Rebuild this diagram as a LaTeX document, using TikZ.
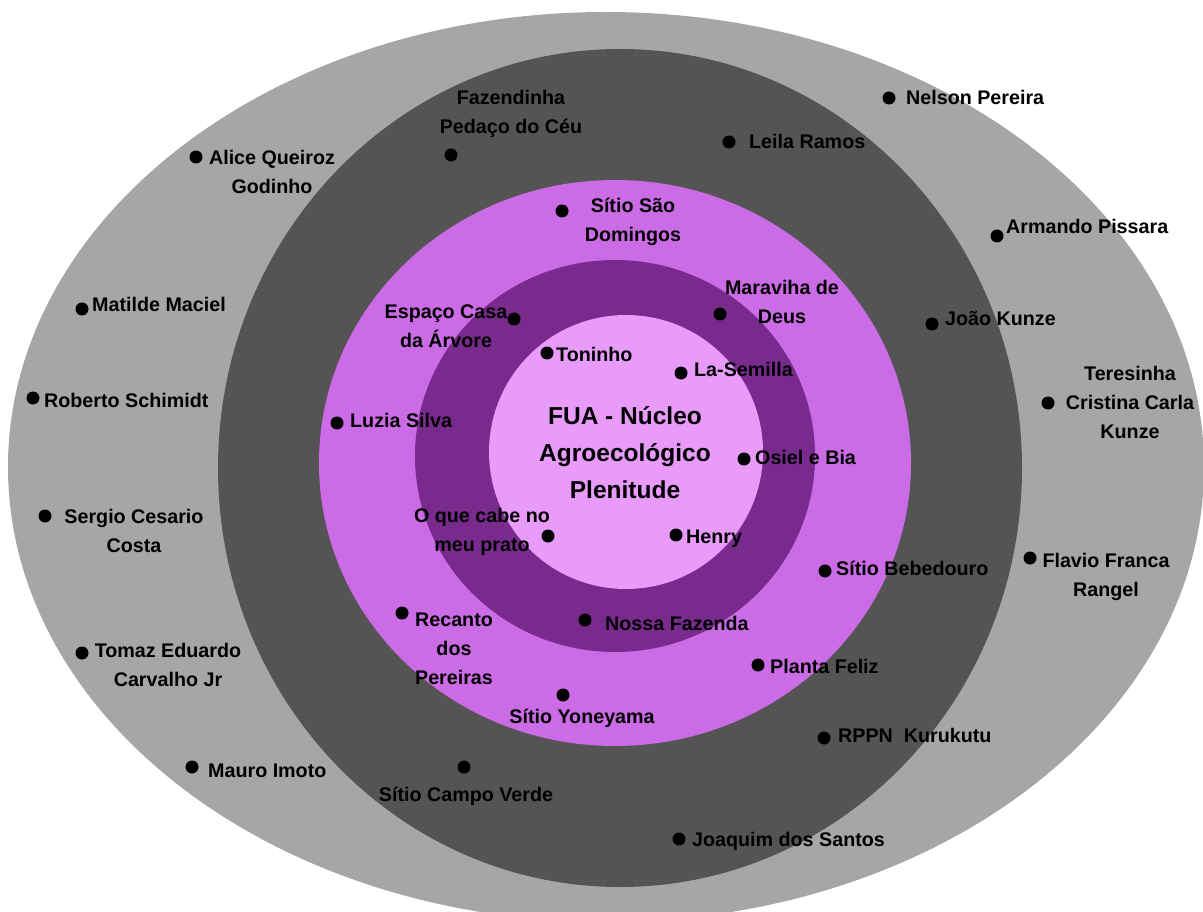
\documentclass[tikz,border=0pt]{standalone}
\usepackage{fontspec}
\setmainfont{Liberation Sans}
\definecolor{outergray}{HTML}{A6A6A6}
\definecolor{darkgray2}{HTML}{545454}
\definecolor{midpurple}{HTML}{CB6CE6}
\definecolor{deeppurple}{HTML}{782B8C}
\definecolor{lightpink}{HTML}{E89BFA}
\tikzset{
  dot/.style={circle,fill=black,minimum size=13pt,inner sep=0pt},
  lbl/.style={anchor=west,inner sep=0pt,font=\bfseries\fontsize{19.7}{29}\selectfont,text height=14pt,text depth=2pt},
  mlbl/.style={anchor=center,inner sep=0pt,align=center,font=\bfseries\fontsize{19.7}{29}\selectfont},
  clbl/.style={anchor=center,inner sep=0pt,font=\bfseries\fontsize{19.7}{29}\selectfont,text height=14pt,text depth=2pt},
  titlelbl/.style={anchor=center,inner sep=0pt,align=center,font=\bfseries\fontsize{24.5}{37}\selectfont}
}
\begin{document}
\begin{tikzpicture}[x=1pt,y=-1pt]
\useasboundingbox (0,0) rectangle (1203,912);
\fill[white] (0,0) rectangle (1203,912);
\begin{scope}
\clip (0,0) rectangle (1203,912);
\fill[outergray] (606,467) ellipse [x radius=598pt, y radius=455pt];
\fill[darkgray2] (620,468) ellipse [x radius=402pt, y radius=419pt];
\fill[midpurple] (615,463) ellipse [x radius=296pt, y radius=283pt];
\fill[deeppurple] (615,456) ellipse [x radius=200pt, y radius=196pt];
\fill[lightpink] (626,452) ellipse [x radius=137pt, y radius=137pt];
\end{scope}

% centre title
\node[titlelbl] (fua) at (625,453) {FUA - Núcleo\\Agroecológico\\Plenitude};

% dots
\node[dot] (d1) at (889,98) {};
\node[dot] (d2) at (729,142) {};
\node[dot] (d3) at (451,155) {};
\node[dot] (d4) at (196,157) {};
\node[dot] (d5) at (562,211) {};
\node[dot] (d6) at (997,236) {};
\node[dot] (d7) at (82,309) {};
\node[dot] (d8) at (720,314) {};
\node[dot] (d9) at (514,319) {};
\node[dot] (d10) at (932,324) {};
\node[dot] (d11) at (547,353) {};
\node[dot] (d12) at (681,373) {};
\node[dot] (d13) at (1048,403) {};
\node[dot] (d14) at (33,398) {};
\node[dot] (d15) at (337,423) {};
\node[dot] (d16) at (744,459) {};
\node[dot] (d17) at (45,516) {};
\node[dot] (d18) at (548,536) {};
\node[dot] (d19) at (676,535) {};
\node[dot] (d20) at (1030,558) {};
\node[dot] (d21) at (825,571) {};
\node[dot] (d22) at (402,613) {};
\node[dot] (d23) at (585,620) {};
\node[dot] (d24) at (82,653) {};
\node[dot] (d25) at (758,665) {};
\node[dot] (d26) at (563,695) {};
\node[dot] (d27) at (824,738) {};
\node[dot] (d28) at (192,767) {};
\node[dot] (d29) at (464,767) {};
\node[dot] (d30) at (679,839) {};

% single-line labels
\node[lbl] (t1) at (906,99) {Nelson Pereira};
\node[lbl] (t2) at (749,143) {Leila Ramos};
\node[lbl] (t6) at (1006,228) {Armando Pissara};
\node[lbl] (t7) at (92,306) {Matilde Maciel};
\node[lbl] (t10) at (945,320) {João Kunze};
\node[lbl] (t11) at (556,355) {Toninho};
\node[lbl] (t12) at (694,370) {La-Semilla};
\node[lbl] (t14) at (44,401) {Roberto Schimidt};
\node[lbl] (t15) at (350,421) {Luzia Silva};
\node[lbl] (t16) at (755,458) {Osiel e Bia};
\node[lbl] (t19) at (686,537) {Henry};
\node[lbl] (t21) at (836,569) {Sítio Bebedouro};
\node[lbl] (t23) at (605,624) {Nossa Fazenda};
\node[lbl] (t25) at (770,667) {Planta Feliz};
\node[lbl] (t27) at (838,736) {RPPN\ \ Kurukutu};
\node[lbl] (t28) at (208,771) {Mauro Imoto};
\node[lbl] (t30) at (692,840) {Joaquim dos Santos};
\node[clbl] (t26) at (582,717) {Sítio Yoneyama};
\node[clbl] (t29) at (466,795) {Sítio Campo Verde};

% multi-line labels
\node[mlbl] (t3) at (511,114) {Fazendinha\\Pedaço do Céu};
\node[mlbl] (t4) at (272,172) {Alice Queiroz\\Godinho};
\node[mlbl] (t5) at (633,222) {Sítio São\\Domingos};
\node[mlbl] (t8) at (782,302) {Maraviha de\\Deus};
\node[mlbl] (t9) at (446,326) {Espaço Casa\\da Árvore};
\node[mlbl] (t13) at (1130,402) {Teresinha\\Cristina Carla\\Kunze};
\node[mlbl] (t17) at (134,531) {Sergio Cesario\\Costa};
\node[mlbl] (t18) at (482,532) {O que cabe no\\meu prato};
\node[mlbl] (t20) at (1106,577) {Flavio Franca\\Rangel};
\node[mlbl] (t22) at (454,649) {Recanto\\dos\\Pereiras};
\node[mlbl] (t24) at (168,665) {Tomaz Eduardo\\Carvalho Jr};
\end{tikzpicture}
\end{document}
